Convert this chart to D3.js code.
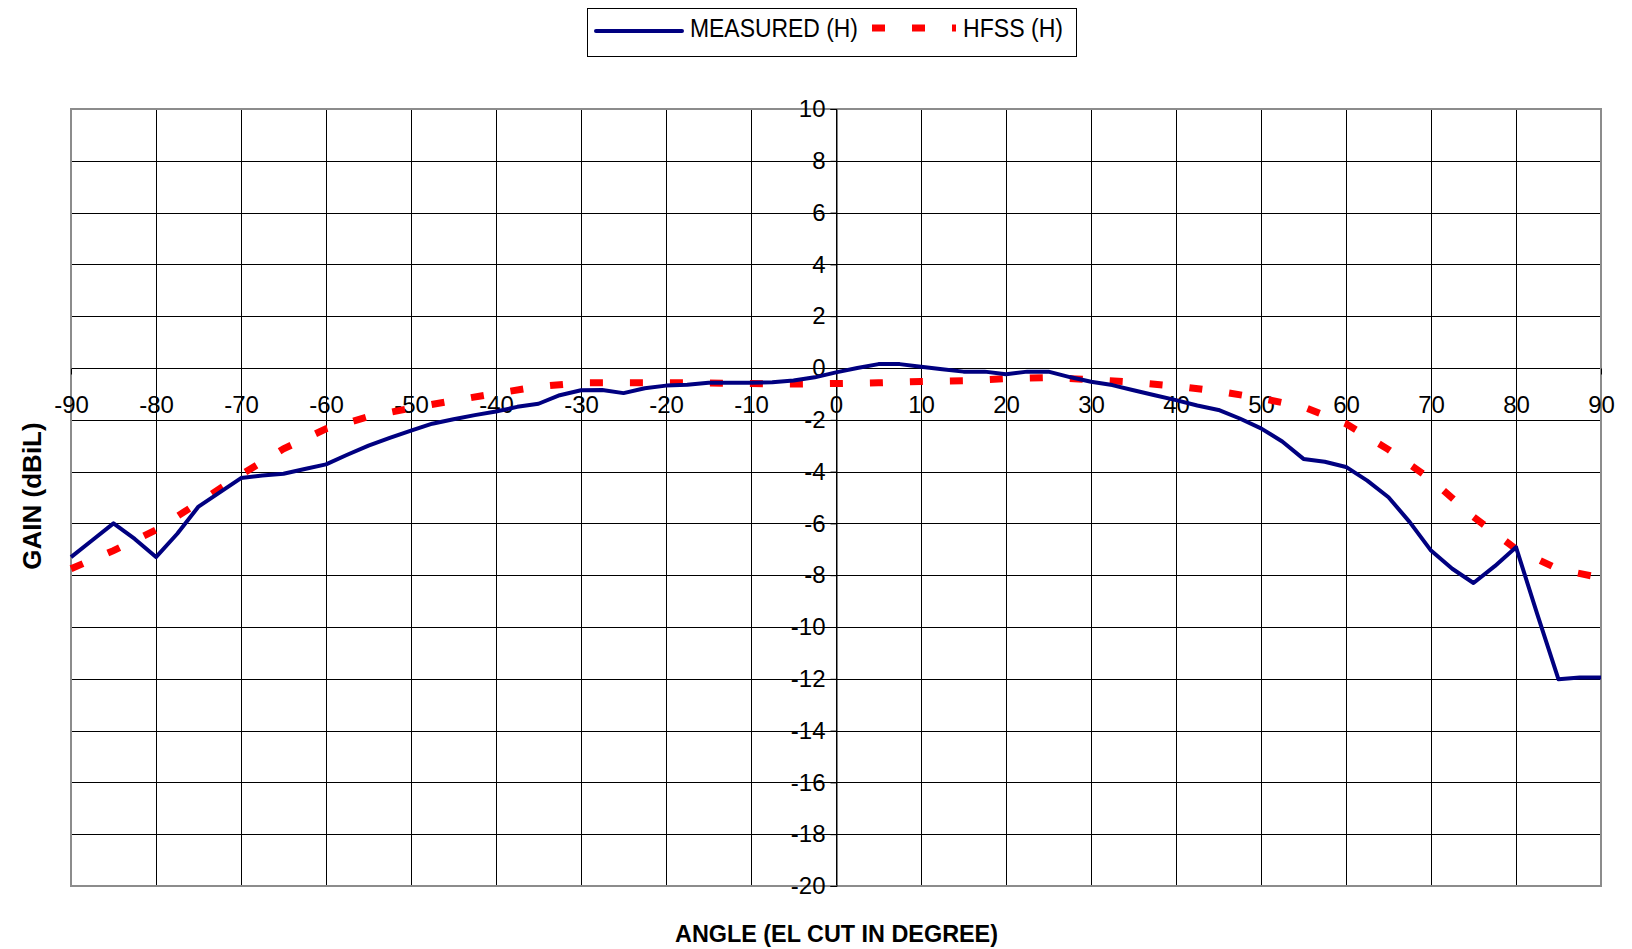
<!DOCTYPE html>
<html>
<head>
<meta charset="utf-8">
<script src="https://cdn.jsdelivr.net/npm/d3@7"></script>
<style>
  body { margin: 0; background: #fff; }
  text { font-family: Arial, "Liberation Sans", sans-serif; fill: #000; }
</style>
</head>
<body>
<svg class="chart"></svg>
<script>
// measured pattern, every 2.5 degrees
var measAngle = [-90, -87.5, -85, -82.5, -80, -77.5, -75, -72.5, -70, -67.5, -65, -62.5, -60, -57.5, -55, -52.5,
  -50, -47.5, -45, -42.5, -40, -37.5, -35, -32.5, -30, -27.5, -25, -22.5, -20, -17.5, -15, -12.5,
  -10, -7.5, -5, -2.5, 0, 2.5, 5, 7.5, 10, 12.5, 15, 17.5, 20, 22.5, 25, 27.5,
  30, 32.5, 35, 37.5, 40, 42.5, 45, 47.5, 50, 52.5, 55, 57.5, 60, 62.5, 65, 67.5,
  70, 72.5, 75, 77.5, 80, 82.5, 85, 87.5, 90];
var measGain = [-7.3, -6.65, -6.0, -6.6, -7.3, -6.4, -5.35, -4.8, -4.25, -4.15, -4.08, -3.9, -3.72, -3.35, -3.0, -2.7,
  -2.42, -2.15, -1.98, -1.82, -1.68, -1.5, -1.38, -1.05, -0.86, -0.85, -0.97, -0.78, -0.68, -0.65, -0.57, -0.57,
  -0.57, -0.55, -0.48, -0.36, -0.17, 0.0, 0.15, 0.15, 0.05, -0.05, -0.14, -0.14, -0.24, -0.14, -0.14, -0.35,
  -0.53, -0.66, -0.86, -1.05, -1.24, -1.45, -1.62, -1.95, -2.33, -2.84, -3.51, -3.62, -3.82, -4.35, -4.99, -5.95,
  -7.05, -7.75, -8.3, -7.65, -6.92, -9.5, -12.02, -11.95, -11.95];

// simulated pattern, every 5 degrees
var hfssAngle = [-90, -85, -80, -75, -70, -65, -60, -55, -50, -45, -40, -35, -30, -25, -20, -15, -10, -5, 0,
  5, 10, 15, 20, 25, 30, 35, 40, 45, 50, 55, 60, 65, 70, 75, 80, 85, 90];
var hfssGain = [-7.75, -7.05, -6.25, -5.2, -4.12, -3.12, -2.35, -1.88, -1.55, -1.26, -0.98, -0.72, -0.57, -0.57, -0.57, -0.58, -0.6, -0.62, -0.6,
  -0.57, -0.52, -0.49, -0.41, -0.37, -0.45, -0.55, -0.7, -0.9, -1.17, -1.5, -2.15, -3.15, -4.3, -5.75, -6.99, -7.77, -8.1];

var xTicks = d3.range(-90, 91, 10);
var yTicks = d3.range(-20, 11, 2);
var seriesNames = ["MEASURED (H)", "HFSS (H)"];

var width = 1632,
    height = 949;

var x = d3.scaleLinear()
    .domain([-90, 90])
    .range([71, 1601]);

var y = d3.scaleLinear()
    .domain([-20, 10])
    .range([886, 109]);

// plain hyphen like the original, not the unicode minus
var fmt = function(d) { return String(d); };

var svg = d3.select(".chart")
    .attr("width", width)
    .attr("height", height);

// grid
svg.append("g")
  .selectAll("line")
    .data(xTicks)
  .enter().append("line")
    .attr("x1", function(d) { return Math.round(x(d)) + 0.5; })
    .attr("x2", function(d) { return Math.round(x(d)) + 0.5; })
    .attr("y1", y(10))
    .attr("y2", y(-20))
    .attr("stroke", "#000")
    .attr("stroke-width", 1);

svg.append("g")
  .selectAll("line")
    .data(yTicks)
  .enter().append("line")
    .attr("x1", x(-90))
    .attr("x2", x(90))
    .attr("y1", function(d) { return Math.round(y(d)) + 0.5; })
    .attr("y2", function(d) { return Math.round(y(d)) + 0.5; })
    .attr("stroke", "#000")
    .attr("stroke-width", 1);

// plot border
svg.append("rect")
    .attr("x", x(-90))
    .attr("y", y(10))
    .attr("width", x(90) - x(-90))
    .attr("height", y(-20) - y(10))
    .attr("fill", "none")
    .attr("stroke", "#8c8c8c")
    .attr("stroke-width", 2);

// axes through the origin
var xAxis = d3.axisBottom(x)
    .tickValues(xTicks)
    .tickSize(6)
    .tickPadding(21)
    .tickFormat(fmt);

var gx = svg.append("g")
    .attr("transform", "translate(0," + (Math.round(y(0)) + 0.5) + ")")
    .call(xAxis);
gx.select(".domain").remove();
gx.selectAll("text")
    .attr("font-size", 24)
    .attr("font-family", "Arial, 'Liberation Sans', sans-serif")
    .attr("fill", "#000");

var yAxis = d3.axisLeft(y)
    .tickValues(yTicks)
    .tickSize(6)
    .tickPadding(5)
    .tickFormat(fmt);

var gy = svg.append("g")
    .attr("transform", "translate(" + (Math.round(x(0)) + 0.5) + ",0)")
    .call(yAxis);
gy.select(".domain").attr("stroke", "#000");
gy.selectAll("text")
    .attr("font-size", 24)
    .attr("font-family", "Arial, 'Liberation Sans', sans-serif")
    .attr("fill", "#000");

// lines
var line = d3.line()
    .x(function(d) { return x(d[0]); })
    .y(function(d) { return y(d[1]); });

svg.append("path")
    .datum(d3.zip(hfssAngle, hfssGain))
    .attr("d", line)
    .attr("fill", "none")
    .attr("stroke", "#ff0000")
    .attr("stroke-width", 7)
    .attr("stroke-dasharray", "13,27");

svg.append("path")
    .datum(d3.zip(measAngle, measGain))
    .attr("d", line)
    .attr("fill", "none")
    .attr("stroke", "#000080")
    .attr("stroke-width", 4)
    .attr("stroke-linejoin", "round");

// axis titles
svg.append("text")
    .attr("transform", "translate(41,496) rotate(-90)")
    .attr("text-anchor", "middle")
    .attr("font-size", 26)
    .attr("font-weight", "bold")
    .text("GAIN (dBiL)");

svg.append("text")
    .attr("x", 675)
    .attr("y", 942)
    .attr("font-size", 24)
    .attr("font-weight", "bold")
    .attr("textLength", 323)
    .attr("lengthAdjust", "spacingAndGlyphs")
    .text("ANGLE (EL CUT IN DEGREE)");

// legend
var legend = svg.append("g");

legend.append("rect")
    .attr("x", 587.5)
    .attr("y", 8.5)
    .attr("width", 489)
    .attr("height", 48)
    .attr("fill", "#fff")
    .attr("stroke", "#000")
    .attr("stroke-width", 1);

legend.append("line")
    .attr("x1", 596).attr("x2", 682)
    .attr("y1", 31).attr("y2", 31)
    .attr("stroke", "#000080")
    .attr("stroke-width", 4)
    .attr("stroke-linecap", "round");

legend.append("text")
    .attr("x", 690)
    .attr("y", 37)
    .attr("font-size", 25)
    .attr("textLength", 168)
    .attr("lengthAdjust", "spacingAndGlyphs")
    .text(seriesNames[0]);

legend.append("line")
    .attr("x1", 872).attr("x2", 956)
    .attr("y1", 28).attr("y2", 28)
    .attr("stroke", "#ff0000")
    .attr("stroke-width", 7)
    .attr("stroke-dasharray", "13,27");

legend.append("text")
    .attr("x", 963)
    .attr("y", 37)
    .attr("font-size", 25)
    .attr("textLength", 100)
    .attr("lengthAdjust", "spacingAndGlyphs")
    .text(seriesNames[1]);
</script>
</body>
</html>
